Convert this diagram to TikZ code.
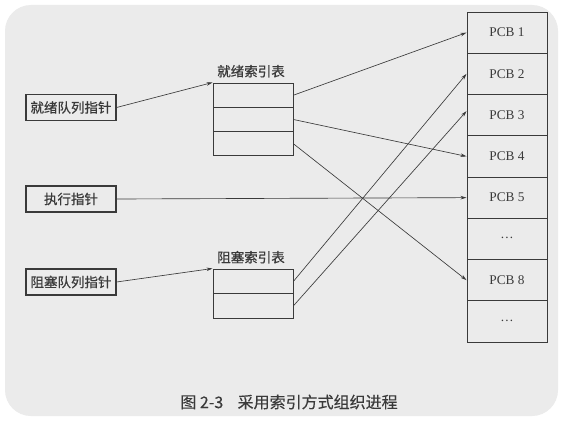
\documentclass[tikz,border=0pt]{standalone}
\usepackage{fontspec}
\setmainfont{Liberation Serif}
\newfontfamily\cjk[FakeBold=0.7]{Noto Sans CJK SC}
\newfontfamily\cjkcap[FakeBold=0.3]{Noto Sans CJK SC}
\usetikzlibrary{arrows.meta}
\definecolor{paper}{HTML}{EBEBEB}
\definecolor{ink}{HTML}{3A3A3A}
\tikzset{
  labelbox/.style={draw=ink, line width=1.1pt, minimum width=90pt, minimum height=26pt,
    inner sep=0pt, font=\cjk\fontsize{13.5pt}{15pt}\selectfont, text=ink},
  rowbox/.style={draw=ink, line width=1pt, minimum width=80pt, inner sep=0pt},
  pcbbox/.style={draw=ink, line width=1pt, minimum width=80pt, minimum height=41.25pt,
    inner sep=0pt, font=\fontsize{13.3pt}{15pt}\selectfont, text=ink},
  title/.style={font=\cjk\fontsize{13.5pt}{15pt}\selectfont, text=ink},
  link/.style={draw=ink, line width=0.65pt, -{Stealth[length=6pt,width=3.5pt]}},
}
\begin{document}
\begin{tikzpicture}[x=1pt, y=-1pt]
  \useasboundingbox (0,0) rectangle (564,420);
  \fill[white] (0,0) rectangle (564,420);
  \fill[paper, rounded corners=26pt] (5,5) rectangle (558,416);

  % pointer boxes on the left
  \node[labelbox] (ready)  at (71,107.5) {就绪队列指针};
  \node[labelbox] (run)    at (71,199)   {执行指针};
  \node[labelbox] (block)  at (71,282)   {阻塞队列指针};

  % ready index table
  \node[rowbox, minimum height=24.33pt] (r1) at (253,95.17)  {};
  \node[rowbox, minimum height=24.33pt] (r2) at (253,119.5)  {};
  \node[rowbox, minimum height=24.33pt] (r3) at (253,143.83) {};
  \node[title, anchor=south] (rt) at (251,81) {就绪索引表};

  % blocked index table
  \node[rowbox, minimum height=24.5pt] (b1) at (253,281.25) {};
  \node[rowbox, minimum height=24.5pt] (b2) at (253,305.75) {};
  \node[title, anchor=south] (bt) at (251,267) {阻塞索引表};

  % PCB column
  \node[pcbbox] (p1) at (507,32.63)  {PCB 1};
  \node[pcbbox] (p2) at (507,73.88)  {PCB 2};
  \node[pcbbox] (p3) at (507,115.13) {PCB 3};
  \node[pcbbox] (p4) at (507,156.38) {PCB 4};
  \node[pcbbox] (p5) at (507,197.63) {PCB 5};
  \node[pcbbox] (p6) at (507,238.88) {\raisebox{2pt}{…}};
  \node[pcbbox] (p7) at (507,280.13) {PCB 8};
  \node[pcbbox] (p8) at (507,321.38) {\raisebox{2pt}{…}};

  % connectors
  \draw[link] (ready.east) -- (r1.north west);
  \draw[link] (block.east) -- (b1.north west);
  \draw[link] (run.east) -- (p5.west);
  \draw[link] (r1.east) -- (p1.west);
  \draw[link] (r2.east) -- (p4.west);
  \draw[link] (r3.east) -- (p7.west);
  \draw[link] (b1.east) -- (p2.west);
  \draw[link] (b2.east) -- ([yshift=4pt]p3.west);

  % caption
  \node[font=\cjkcap\fontsize{16pt}{18pt}\selectfont, text=ink] (cap) at (289,402)
    {图 2-3\hspace{0.9em}采用索引方式组织进程};
\end{tikzpicture}
\end{document}
